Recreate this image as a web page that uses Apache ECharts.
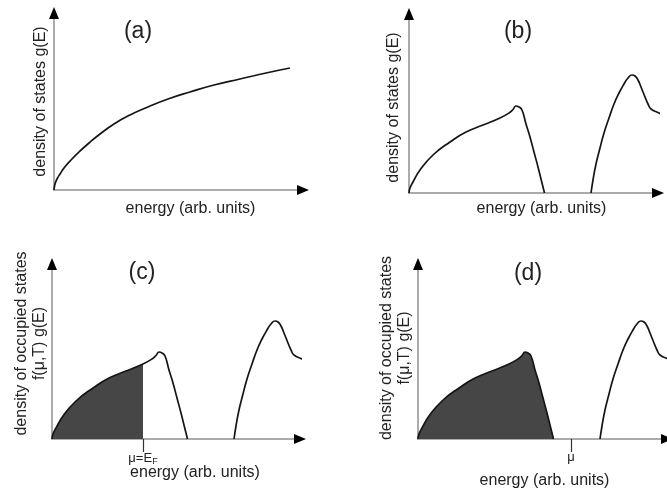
<!DOCTYPE html>
<html>
<head>
<meta charset="utf-8">
<script src="https://cdn.jsdelivr.net/npm/echarts@6/dist/echarts.min.js"></script>
<style>
  html, body { margin: 0; padding: 0; background: #fff; }
  #chart { width: 667px; height: 493px; }
</style>
</head>
<body>
<div id="chart"></div>
<script>
// ---- data (energy, density) in arbitrary units ----
// (a) free-electron density of states, g(E) ~ sqrt(E)
const freeDos = [[0,0],[1,6],[3,11],[6,16],[10,22],[17,30],[25,38],[35,47],[46,56],[60,66],[76,75],[94,83],[114,91],[136,98],[160,105],[186,111],[212,117],[236,122]];
// (b)-(d) two bands separated by a gap
const lowerBand = [[0,0],[1,5],[4,11],[11,23],[24,38],[41,51],[57,61],[74,68],[91,75],[100,80],[104,83.5],[107,87],[110,86],[113,83],[117,69],[121,56],[125,41],[129,26],[133,10],[135.5,0]];
const upperBand = [[182,0],[184,13],[187,29],[191,45],[195,60],[200,75],[205,89],[210,100],[215,109],[219,115],[223,118],[226,117],[229,113],[232,106],[236,96],[239,89],[242,84],[250,80],[260,75]];
// chemical potential: inside the lower band (metal) and inside the gap (insulator)
const muMetal = 91;
const muInsulator = 153;

const panelTitles = ['(a)', '(b)', '(c)', '(d)'];
const xName = 'energy (arb. units)';
const yNameDos = 'density of states g(E)';
const yNameOcc = 'density of occupied states\nf(μ,T) g(E)';

// ---- layout ----
const FONT = '"Liberation Sans", Arial, Helvetica, sans-serif';
const TEXT = '#222';
const AXIS_GRAY = '#ababab';
const CURVE = '#151515';
const FILL = '#464646';

const panels = [
  { grid: { left: 54,  top: 13,  width: 249, height: 177 }, title: [138, 32], yName: yNameDos, yGap: 4, yPad: [0,0,0,0], xGap: 11, xPad: [0,0,0,24] },
  { grid: { left: 409, top: 14,  width: 249, height: 179 }, title: [518, 32], yName: yNameDos, yGap: 6, yPad: [0,8,0,0], xGap: 8,  xPad: [0,0,0,16] },
  { grid: { left: 52,  top: 264, width: 248, height: 175 }, title: [142, 273], yName: yNameOcc, yGap: 3, yPad: [0,0,0,16], xGap: 26, xPad: [0,0,0,38],
    mu: muMetal, muLabel: '{m|μ=E}{s|F}' },
  { grid: { left: 418, top: 264, width: 249, height: 175 }, title: [528, 274], yName: yNameOcc, yGap: 4, yPad: [0,0,0,7], xGap: 34, xPad: [0,0,0,4],
    mu: muInsulator, muLabel: '{m|μ}' }
];

const muRich = {
  m: { fontFamily: FONT, fontSize: 13, color: TEXT },
  s: { fontFamily: FONT, fontSize: 9, color: TEXT, verticalAlign: 'bottom', padding: [6, 0, 0, 0] }
};

const grid = [], xAxis = [], yAxis = [], series = [], graphic = [];

panels.forEach((p, i) => {
  grid.push(Object.assign({ containLabel: false, outerBoundsMode: 'none' }, p.grid));
  const xMax = p.grid.width, yMax = p.grid.height;

  // gray axis lines, names and the μ tick
  const xMain = {
    gridIndex: i, type: 'value', min: 0, max: xMax, position: 'bottom',
    axisLine: { show: true, onZero: false, lineStyle: { color: AXIS_GRAY, width: 2 } },
    axisTick: { show: false }, axisLabel: { show: false }, splitLine: { show: false },
    name: xName, nameLocation: 'middle', nameGap: p.xGap, nameMoveOverlap: false,
    nameTextStyle: { fontFamily: FONT, fontSize: 16, color: TEXT, padding: p.xPad }
  };
  if (p.mu != null) {
    xMain.axisTick = { show: true, customValues: [p.mu], length: 13, lineStyle: { color: '#333', width: 1.2 } };
    xMain.axisLabel = { show: true, customValues: [p.mu], margin: 12, formatter: () => p.muLabel, rich: muRich };
  }
  xAxis.push(xMain);
  // black arrowheads on top of the gray lines
  xAxis.push({
    gridIndex: i, type: 'value', min: 0, max: xMax, position: 'bottom',
    axisLine: { show: true, onZero: false, symbol: ['none', 'triangle'], symbolSize: [10, 12], lineStyle: { color: '#000', width: 0 } },
    axisTick: { show: false }, axisLabel: { show: false }, splitLine: { show: false }
  });

  yAxis.push({
    gridIndex: i, type: 'value', min: 0, max: yMax, position: 'left',
    axisLine: { show: true, onZero: false, lineStyle: { color: AXIS_GRAY, width: 2 } },
    axisTick: { show: false }, axisLabel: { show: false }, splitLine: { show: false },
    name: p.yName, nameLocation: 'middle', nameGap: p.yGap, nameMoveOverlap: false,
    nameTextStyle: { fontFamily: FONT, fontSize: 16, lineHeight: 18, color: TEXT, padding: p.yPad }
  });
  yAxis.push({
    gridIndex: i, type: 'value', min: 0, max: yMax, position: 'left',
    axisLine: { show: true, onZero: false, symbol: ['none', 'triangle'], symbolSize: [10, 12], lineStyle: { color: '#000', width: 0 } },
    axisTick: { show: false }, axisLabel: { show: false }, splitLine: { show: false }
  });

  graphic.push({
    type: 'text', x: p.title[0], y: p.title[1],
    style: { text: panelTitles[i], fontFamily: FONT, fontSize: 23, fill: TEXT, textAlign: 'center', textVerticalAlign: 'middle' }
  });
});

const curve = (gi, data, extra) => Object.assign({
  type: 'line', xAxisIndex: gi * 2, yAxisIndex: gi * 2, data: data,
  showSymbol: false, smooth: 0.5, clip: false, silent: true, z: 3,
  lineStyle: { color: CURVE, width: 1.7 }
}, extra || {});

// (a)
series.push(curve(0, freeDos));
// (b)
series.push(curve(1, lowerBand));
series.push(curve(1, upperBand));
// (c) occupied states up to μ = E_F
series.push(curve(2, lowerBand.filter(d => d[0] <= muMetal), {
  z: 2, lineStyle: { width: 0 }, areaStyle: { color: FILL, opacity: 1 }
}));
series.push(curve(2, lowerBand));
series.push(curve(2, upperBand));
// (d) lower band completely filled, μ in the gap
series.push(curve(3, lowerBand, { areaStyle: { color: FILL, opacity: 1 } }));
series.push(curve(3, upperBand));

const chart = echarts.init(document.getElementById('chart'), null, { renderer: 'canvas' });
chart.setOption({
  backgroundColor: '#ffffff',
  animation: false,
  grid, xAxis, yAxis, series, graphic
});
</script>
</body>
</html>
